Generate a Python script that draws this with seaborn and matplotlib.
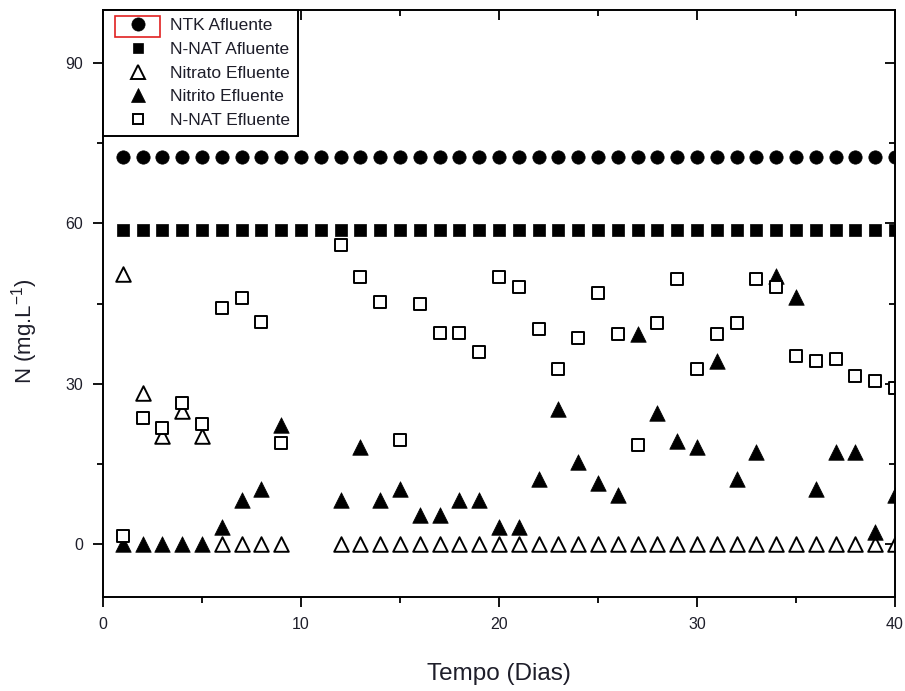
import numpy as np
import pandas as pd
import matplotlib
matplotlib.use("Agg")
import matplotlib.pyplot as plt
from matplotlib.patches import Rectangle
from matplotlib.lines import Line2D
import seaborn as sns

nan = np.nan
dias = [1, 2, 3, 4, 5, 6, 7, 8, 9, 10, 11, 12, 13, 14, 15, 16, 17, 18, 19, 20,
        21, 22, 23, 24, 25, 26, 27, 28, 29, 30, 31, 32, 33, 34, 35, 36, 37, 38, 39, 40]
ntk_afluente = [72.4] * 40
nnat_afluente = [58.8] * 40
nitrato_efluente = [50.5, 28.2, 20.2, 24.8, 20.2, 0, 0, 0, 0, nan, nan, 0, 0, 0, 0, 0, 0, 0, 0, 0,
                    0, 0, 0, 0, 0, 0, 0, 0, 0, 0, 0, 0, 0, 0, 0, 0, 0, 0, 0, 0]
nitrito_efluente = [0, 0, 0, 0, 0, 3.2, 8.1, 10.3, 22.2, nan, nan, 8.1, 18.1, 8.1, 10.3, 5.3, 5.3, 8.1, 8.1, 3.2,
                    3.2, 12.2, 25.3, 15.3, 11.3, 9.2, 39.3, 24.4, 19.3, 18.2, 34.3, 12.2, 17.2, 50.2, 46.2, 10.3, 17.2, 17.2, 2.2, 9.2]
nnat_efluente = [1.5, 23.5, 21.7, 26.3, 22.5, 44.1, 46.0, 41.6, 18.8, nan, nan, 55.9, 49.9, 45.2, 19.5, 44.9, 39.4, 39.4, 35.9, 49.9,
                 48.0, 40.2, 32.8, 38.5, 47.0, 39.2, 18.4, 41.3, 49.5, 32.8, 39.2, 41.3, 49.5, 48.0, 35.1, 34.2, 34.6, 31.4, 30.4, 29.2]

series_names = ["NTK Afluente", "N-NAT Afluente", "Nitrato Efluente", "Nitrito Efluente", "N-NAT Efluente"]
series_vals = [ntk_afluente, nnat_afluente, nitrato_efluente, nitrito_efluente, nnat_efluente]

x_major = [0, 10, 20, 30, 40]
x_minor = [5, 15, 25, 35]
y_major = [0, 30, 60, 90]
y_minor = [15, 45, 75]

sns.set_theme(style="white")
plt.rcParams['font.family'] = ['Liberation Sans', 'DejaVu Sans']
plt.rcParams['mathtext.fontset'] = 'custom'
plt.rcParams['mathtext.rm'] = 'Liberation Sans'

TXT = '#1e1e2a'

fig = plt.figure(figsize=(9.05, 6.91), dpi=100)
ax = fig.add_axes([103/905, 1-597/691, (895-103)/905, (597-10)/691])

styles = {
    "NTK Afluente": dict(marker="o", s=92, color="black", edgecolor="black", linewidth=0.5),
    "N-NAT Afluente": dict(marker="s", s=75, color="black", edgecolor="black", linewidth=0.5),
    "Nitrato Efluente": dict(marker="^", s=110, color="white", edgecolor="black", linewidth=1.4),
    "Nitrito Efluente": dict(marker="^", s=125, color="black", edgecolor="black", linewidth=0.5),
    "N-NAT Efluente": dict(marker="s", s=72, color="white", edgecolor="black", linewidth=1.4),
}

for name, vals in zip(series_names, series_vals):
    df = pd.DataFrame({"Dia": dias, "N": vals}).dropna()
    sns.scatterplot(data=df, x="Dia", y="N", ax=ax, legend=False, **styles[name])

ax.set_xticks(x_major)
ax.set_xticks(x_minor, minor=True)
ax.set_yticks(y_major)
ax.set_yticks(y_minor, minor=True)
ax.set_xlim(0, 40)
ax.set_ylim(-10, 100)
ax.tick_params(axis='both', which='both', direction='out', left=True, bottom=True,
               right=False, top=False, colors='black', labelsize=11.5, pad=7)
ax.tick_params(axis='both', which='major', length=7.5, width=1.3)
ax.tick_params(axis='both', which='minor', length=4, width=1.3)
ax.tick_params(axis='both', labelcolor=TXT)
for sp in ax.spines.values():
    sp.set_color('black')
    sp.set_linewidth(1.4)

sec_x = ax.secondary_xaxis('top')
sec_x.set_xticks(x_major)
sec_x.set_xticks(x_minor, minor=True)
sec_x.tick_params(which='both', direction='in', top=True, labeltop=False, width=1.3, colors='black')
sec_x.tick_params(which='major', length=7.5)
sec_x.tick_params(which='minor', length=4)
sec_y = ax.secondary_yaxis('right')
sec_y.set_yticks(y_major)
sec_y.set_yticks(y_minor, minor=True)
sec_y.tick_params(which='both', direction='in', right=True, labelright=False, width=1.3, colors='black')
sec_y.tick_params(which='major', length=7.5)
sec_y.tick_params(which='minor', length=4)
for s in (sec_x, sec_y):
    for sp in s.spines.values():
        sp.set_visible(False)
ax.set_xlim(0, 40)
ax.set_ylim(-10, 100)

ax.set_xlabel("Tempo (Dias)", fontsize=17.5, labelpad=22, color=TXT)
ax.set_ylabel("N (mg.L$^{-1}$)", fontsize=16, color=TXT)
ax.yaxis.set_label_coords(-0.079, 0.453)

handles = []
leg_sizes = {"NTK Afluente": 9.5, "N-NAT Afluente": 7.5, "Nitrato Efluente": 9.5,
             "Nitrito Efluente": 10.5, "N-NAT Efluente": 7}
for name in series_names:
    st = styles[name]
    handles.append(Line2D([], [], linestyle='none', marker=st["marker"], markersize=leg_sizes[name],
                          markerfacecolor=st["color"], markeredgecolor='black',
                          markeredgewidth=st["linewidth"]))
leg = ax.legend(handles, series_names, loc='upper left', borderaxespad=0, fancybox=False,
                frameon=True, edgecolor='black', fontsize=12.5, labelspacing=0.5,
                handletextpad=0.3, borderpad=0.45, handlelength=3.1)
leg.get_frame().set_linewidth(1.4)
leg.get_frame().set_alpha(1)
for t in leg.get_texts():
    t.set_color(TXT)

fig.patches.append(Rectangle((115/905, 1-37/691), 45/905, 21/691, transform=fig.transFigure,
                             fill=False, edgecolor='#e02020', linewidth=1.2, zorder=10))

fig.savefig("out.png", dpi=100)
